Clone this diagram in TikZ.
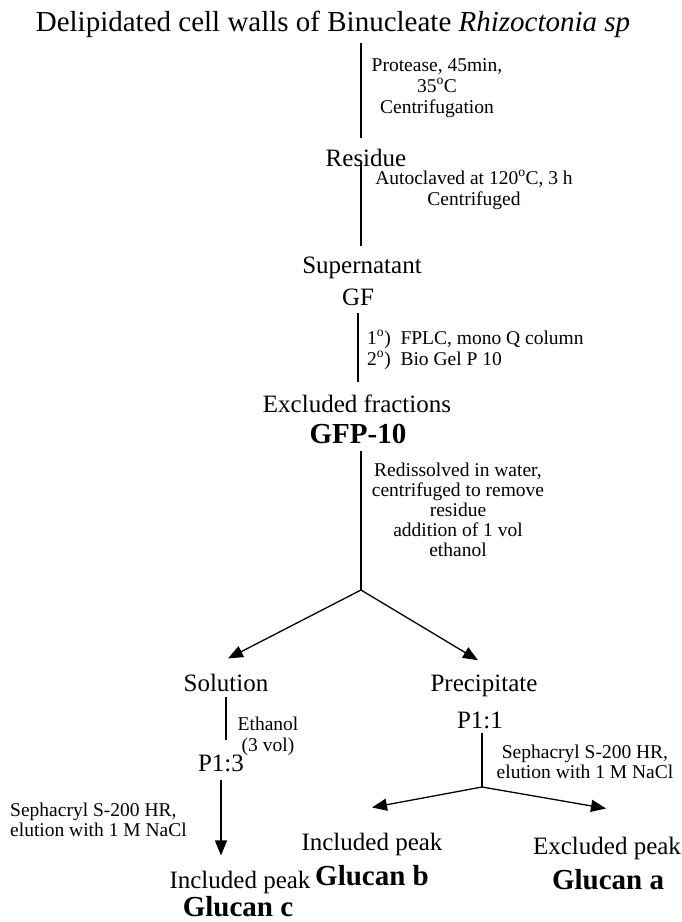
\documentclass[tikz,border=0pt]{standalone}
\usepackage{fontspec}
\setmainfont{Liberation Serif}
\usetikzlibrary{arrows.meta}

\begin{document}
\begin{tikzpicture}[x=1pt,y=-1pt
  ,pstyle0/.style={color=black,inner sep=0pt,anchor=base,font=\fontsize{25}{26}\selectfont}
  ,pstyle1/.style={color=black,inner sep=0pt,anchor=base,font=\fontsize{29}{30}\selectfont\bfseries}
  ,pstyle2/.style={color=black,inner sep=0pt,align=center,font=\fontsize{19.5}{21}\selectfont}
  ,pstyle3/.style={color=black,line width=1.3pt}
  ,pstyle4/.style={color=black,line width=1.3pt,-{Triangle[length=15pt,width=12pt]}}
]
\useasboundingbox (0,0) rectangle (682,922);

% --- Stages ---
\node[pstyle0,font=\fontsize{29}{30}\selectfont] (walls) at (333,31) {Delipidated cell walls of Binucleate \textit{Rhizoctonia sp}};
\node[pstyle0] (res) at (366,166) {Residue};
\node[pstyle0] (super) at (362,273) {Supernatant};
\node[pstyle0] (gf) at (358,305) {GF};
\node[pstyle0] (excl) at (357,412) {Excluded fractions};
\node[pstyle1] (gfp) at (358,443) {GFP-10};
\node[pstyle0] (sol) at (226,691) {Solution};
\node[pstyle0] (prec) at (484,691) {Precipitate};
\node[pstyle0] (p11) at (480,728) {P1:1};
\node[pstyle0] (p13) at (221,771) {P1:3};
\node[pstyle0] (incb) at (372,850) {Included peak};
\node[pstyle1] (glcb) at (372,885) {Glucan b};
\node[pstyle0] (exca) at (607,854) {Excluded peak};
\node[pstyle1] (glca) at (608,889) {Glucan a};
\node[pstyle0] (incc) at (240,888) {Included peak};
\node[pstyle1] (glcc) at (238,916) {Glucan c};

% --- Treatments ---
\node[pstyle2] (prot) at (437,88) {Protease, 45min,\\35\textsuperscript{o}C\\Centrifugation};
\node[pstyle2] (auto) at (474,190) {Autoclaved at 120\textsuperscript{o}C, 3 h\\Centrifuged};
\node[pstyle2,align=left,anchor=west] (fplc) at (367,350) {1\textsuperscript{o})\ \ FPLC, mono Q column\\2\textsuperscript{o})\ \ Bio Gel P 10};
\node[pstyle2,font=\fontsize{19.5}{20}\selectfont] (redis) at (458,510) {Redissolved in water,\\centrifuged to remove\\residue\\addition of 1 vol\\ethanol};
\node[pstyle2] (etoh) at (268,736) {Ethanol\\(3 vol)};
\node[pstyle2,font=\fontsize{19.5}{20}\selectfont] (seph1) at (585,762) {Sephacryl S-200 HR,\\elution with 1 M NaCl};
\node[pstyle2,font=\fontsize{19.5}{20}\selectfont,align=left,anchor=west] (seph2) at (10,820) {Sephacryl S-200 HR,\\elution with 1 M NaCl};

% --- Branch points ---
\coordinate (stem) at (361,0);
\coordinate (split1) at (361,590);
\coordinate (split2) at (482,787);

% --- Lines and arrows ---
\draw[pstyle3,shorten <=6pt,shorten >=10pt] (walls.south -| stem) -- (res.north -| stem);
\draw[pstyle3,shorten <=-3pt,shorten >=10pt] (res.south -| stem) -- (super.north -| stem);
\draw[pstyle3,shorten <=8pt,shorten >=12pt] (gf.south -| gf) -- (excl.north -| gf);
\draw[pstyle3,shorten <=8pt] (gfp.south -| stem) -- (split1);
\draw[pstyle4] (split1) -- ([shift={(2pt,15pt)}]sol.north);
\draw[pstyle4] (split1) -- ([shift={(-6pt,14pt)}]prec.north);
\draw[pstyle3,shorten <=6pt,shorten >=14pt] (sol.south) -- (p13.north -| sol);
\draw[pstyle3,shorten <=4pt] (p11.south -| split2) -- (split2);
\draw[pstyle4] (split2) -- ([shift={(0pt,25pt)}]incb.north);
\draw[pstyle4] (split2) -- ([shift={(-1pt,28pt)}]exca.north);
\draw[pstyle4,shorten <=8pt,shorten >=15pt] (p13.south) -- (incc.north -| p13);

\end{tikzpicture}
\end{document}
